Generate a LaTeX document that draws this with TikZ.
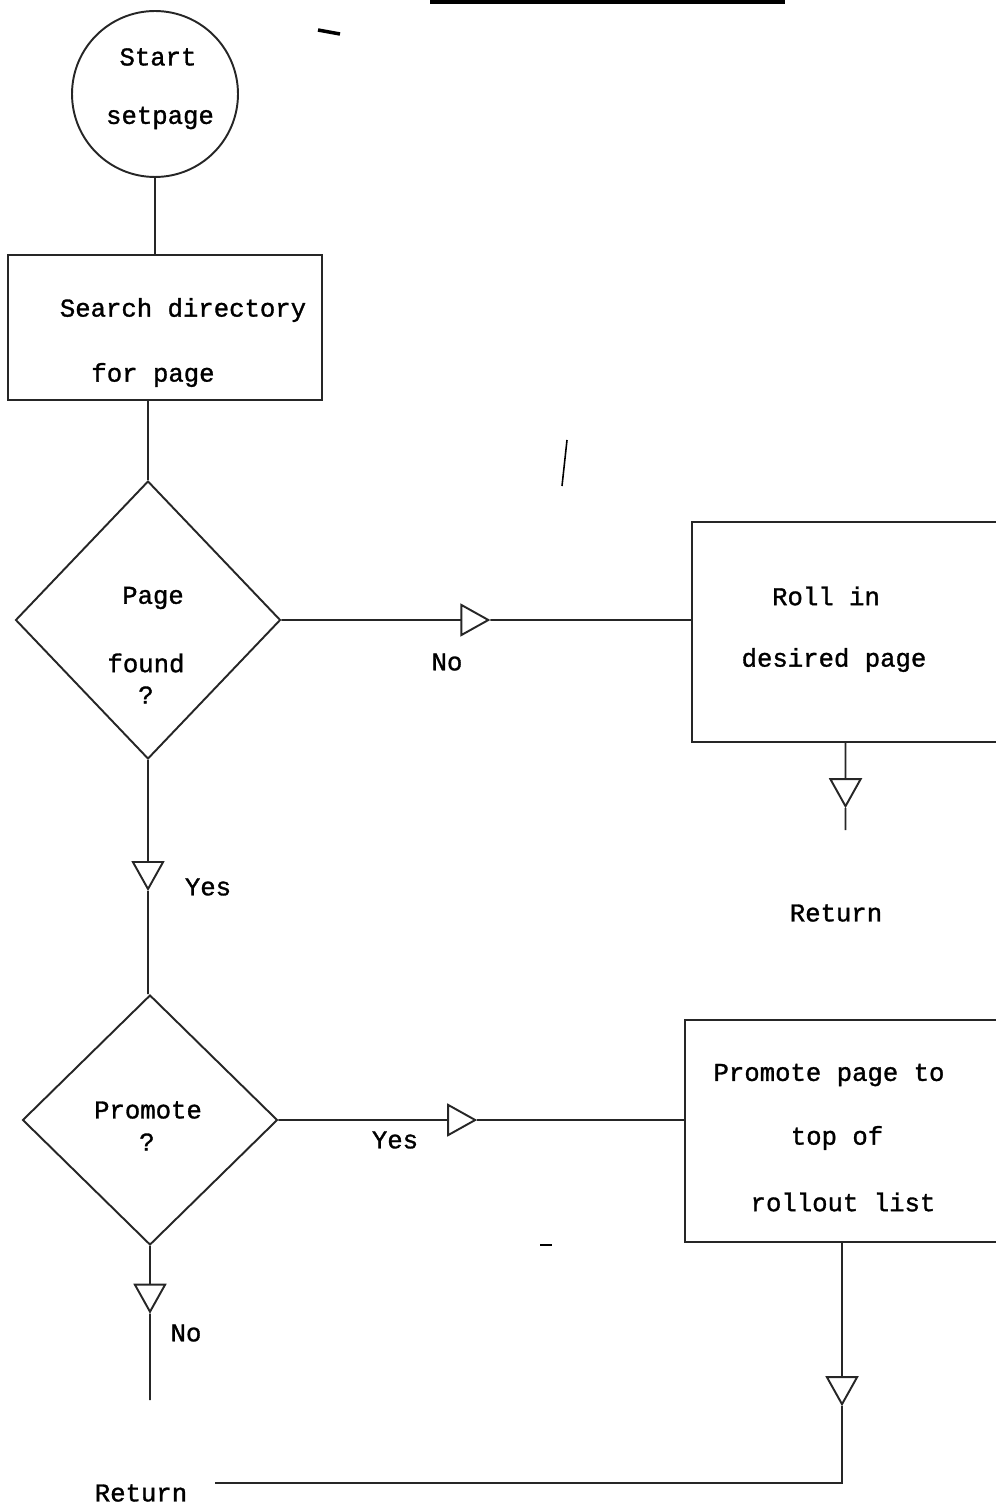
\documentclass[tikz,border=0pt]{standalone}
\usepackage{fontspec}
\newfontfamily\typewriter[FakeBold=1.2]{Liberation Mono}
\usetikzlibrary{shapes, arrows.meta, positioning, calc}

\tikzset{
  flowline/.style={black!85, line width=1.1pt},
  flowbox/.style={draw=black!85, line width=1.1pt, rectangle, inner sep=0pt},
  flowtest/.style={draw=black!85, line width=1.1pt, diamond, inner sep=0pt},
  flowstart/.style={draw=black!85, line width=1.1pt, circle, inner sep=0pt},
  flowtxt/.style={font=\typewriter\fontsize{14.6}{18}\selectfont, inner sep=0pt},
  midtip/.style={-{Triangle[open, length=0.6cm, width=0.66cm]}},
}

\begin{document}
\begin{tikzpicture}[x=0.02cm, y=-0.02cm]
  \useasboundingbox (0,0) rectangle (996,1506);
  % marks of the page
  \draw[line width=2.5pt] (430,2) -- (785,2);
  \draw[line width=2pt] (318,30) -- (340,34);
  \draw[line width=0.9pt] (567,440) -- (562,486);
  \draw[line width=1.5pt] (540,1245) -- (552,1245);
  % start
  \node[flowstart, minimum size=3.32cm] (start) at (155,94) {};
  \node[flowtxt] (startA) at (158,57) {Start};
  \node[flowtxt] (startB) at (160,118) {setpage};
  % search directory
  \node[flowbox, minimum width=6.28cm, minimum height=2.9cm] (search) at (165,327.5) {};
  \node[flowtxt] (searchA) at (183,310) {Search directory};
  \node[flowtxt] (searchB) at (153,375) {for page};
  % page found ?
  \node[flowtest, minimum width=5.3cm, minimum height=5.56cm] (found) at (148,620) {};
  \node[flowtxt] (foundA) at (153,598) {Page};
  \node[flowtxt] (foundB) at (146,663) {found};
  \node[flowtxt] (foundC) at (146,695) {?};
  % roll in
  \node[flowbox, minimum width=6.14cm, minimum height=4.4cm] (roll) at (845.5,632) {};
  \node[flowtxt] (rollA) at (826,596) {Roll in};
  \node[flowtxt] (rollB) at (834,660) {desired page};
  \node[flowtxt] (retA) at (836,913) {Return};
  % promote ?
  \node[flowtest, minimum width=5.1cm, minimum height=5cm] (promo) at (150,1120) {};
  \node[flowtxt] (promoA) at (148,1110) {Promote};
  \node[flowtxt] (promoB) at (147,1142) {?};
  % promote page
  \node[flowbox, minimum width=6.28cm, minimum height=4.44cm] (promote) at (842,1131) {};
  \node[flowtxt] (promoteA) at (829,1075) {Promote page to};
  \node[flowtxt] (promoteB) at (837,1138) {top of};
  \node[flowtxt] (promoteC) at (843,1202) {rollout list};
  \node[flowtxt] (retB) at (141,1493) {Return};
  % labels
  \node[flowtxt] (noA) at (447,662) {No};
  \node[flowtxt] (yesA) at (208,887) {Yes};
  \node[flowtxt] (yesB) at (395,1140) {Yes};
  \node[flowtxt] (noB) at (186,1333) {No};
  % free ends
  \coordinate (rollEnd) at (845.5,830);
  \coordinate (promoEnd) at (150,1400);
  \coordinate (turn) at (842,1483);
  \coordinate (retLine) at (215,1483);
  % connectors
  \draw[flowline] (start.south) -- (start.south |- search.north);
  \draw[flowline] (found.north |- search.south) -- (found.north);
  \draw[flowline, midtip] (found.east) -- ($(found.east)!0.51!(found.east -| roll.west)$) coordinate (noTip);
  \draw[flowline] (noTip) -- (found.east -| roll.west);
  \draw[flowline, midtip] (roll.south) -- ($(roll.south)!0.75!(rollEnd)$) coordinate (rollTip);
  \draw[flowline] (rollTip) -- (rollEnd);
  \draw[flowline, midtip] (found.south) -- ($(found.south)!0.56!(found.south |- promo.north)$) coordinate (yesTip);
  \draw[flowline] (yesTip) -- (found.south |- promo.north);
  \draw[flowline, midtip] (promo.east) -- ($(promo.east)!0.49!(promo.east -| promote.west)$) coordinate (promoTip);
  \draw[flowline] (promoTip) -- (promo.east -| promote.west);
  \draw[flowline, midtip] (promo.south) -- ($(promo.south)!0.44!(promoEnd)$) coordinate (noTip2);
  \draw[flowline] (noTip2) -- (promoEnd);
  \draw[flowline, midtip] (promote.south) -- ($(promote.south)!0.68!(turn)$) coordinate (upTip);
  \draw[flowline] (upTip) -- (turn) -- (retLine);
\end{tikzpicture}
\end{document}
